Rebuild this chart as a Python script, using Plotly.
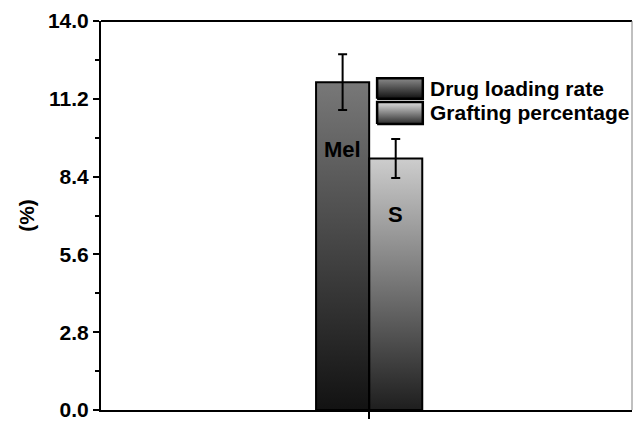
import plotly.graph_objects as go

# ---- data ----
series = ["Drug loading rate", "Grafting percentage"]
bar_labels = ["Mel", "S"]
values = [11.8, 9.05]
errors = [1.0, 0.7]
y_ticks = [0.0, 2.8, 5.6, 8.4, 11.2, 14.0]

# ---- style ----
FONT = "Liberation Sans"
bar_width = 0.1
bar_offsets = [-bar_width, 0.0]
bar_grad = [["#121212", "#787878"], ["#1e1e1e", "#cdcdcd"]]
legend_grad = [["#111111", "#8a8a8a"], ["#2a2a2a", "#e0e0e0"]]
label_shift_px = [-67, -56]

fig = go.Figure()

# gradient fills of the bars (primary axes)
for i, v in enumerate(values):
    x0 = bar_offsets[i]
    x1 = x0 + bar_width
    fig.add_trace(go.Scatter(
        x=[x0, x1, x1, x0, x0], y=[0, 0, v, v, 0],
        mode="lines", fill="toself", line=dict(width=0, color="rgba(0,0,0,0)"),
        fillgradient=dict(type="vertical", start=0, stop=v,
                          colorscale=[[0, bar_grad[i][0]], [1, bar_grad[i][1]]]),
        hoverinfo="skip", showlegend=False,
    ))

# bar outlines and error bars on an overlaid axis pair so they sit above the fills
for i, v in enumerate(values):
    fig.add_trace(go.Bar(
        x=[0], y=[v], width=bar_width, offset=bar_offsets[i], name=series[i],
        marker=dict(color="rgba(0,0,0,0)", line=dict(color="black", width=2)),
        error_y=dict(type="data", array=[errors[i]], color="black",
                     thickness=2, width=4.5),
        xaxis="x2", yaxis="y2", showlegend=False,
    ))

# legend swatches drawn in plot-fraction units
swatch_x = [0.520, 0.606]
swatch_y = [[0.800, 0.853], [0.735, 0.792]]
for i in range(len(series)):
    xa, xb = swatch_x
    ya, yb = swatch_y[i]
    fig.add_trace(go.Scatter(
        x=[xa, xb, xb, xa, xa], y=[ya, ya, yb, yb, ya],
        mode="lines", fill="toself", line=dict(color="black", width=2.5),
        fillgradient=dict(type="vertical", start=ya, stop=yb,
                          colorscale=[[0, legend_grad[i][0]], [1, legend_grad[i][1]]]),
        xaxis="x3", yaxis="y3", hoverinfo="skip", showlegend=False,
    ))
    fig.add_annotation(
        x=0.616, y=(ya + yb) / 2, xref="x domain", yref="y domain",
        text=series[i], showarrow=False, xanchor="left", yanchor="middle",
        font=dict(family=FONT, size=21, color="black", weight="bold"),
    )

# labels inside the bars
for i, v in enumerate(values):
    fig.add_annotation(
        x=bar_offsets[i] + bar_width / 2, y=v, xref="x", yref="y",
        yshift=label_shift_px[i], text=bar_labels[i], showarrow=False,
        font=dict(family=FONT, size=22, color="black", weight="bold"),
    )

xrange = [-0.505, 0.495]
yrange = [0, 14]

fig.update_layout(
    width=633, height=426,
    margin=dict(l=101, r=1, t=21, b=16),
    paper_bgcolor="white", plot_bgcolor="white",
    showlegend=False,
    xaxis=dict(range=xrange, showline=True, linecolor="black", linewidth=2,
               ticks="outside", tickvals=[0], ticktext=[""], ticklen=7,
               tickwidth=2, tickcolor="black", showgrid=False, zeroline=False),
    yaxis=dict(range=yrange, showline=True, linecolor="black", linewidth=2,
               tickvals=y_ticks, tickformat=".1f", ticks="outside", ticklen=6,
               tickwidth=2, tickcolor="black",
               minor=dict(dtick=1.4, tick0=0, ticks="outside", ticklen=4,
                          tickwidth=2, tickcolor="black", showgrid=False),
               showgrid=False, zeroline=False,
               tickfont=dict(family=FONT, size=21, color="black", weight="bold"),
               title=dict(text="(%)", standoff=8,
                          font=dict(family=FONT, size=21, color="black", weight="bold"))),
    xaxis2=dict(overlaying="x", range=xrange, visible=False),
    yaxis2=dict(overlaying="y", range=yrange, visible=False),
    xaxis3=dict(overlaying="x", range=[0, 1], visible=False),
    yaxis3=dict(overlaying="y", range=[0, 1], visible=False),
    shapes=[
        dict(type="line", xref="x domain", yref="y domain", x0=0, x1=1, y0=1, y1=1,
             line=dict(color="black", width=2)),
        dict(type="line", xref="x domain", yref="y domain", x0=1, x1=1, y0=0, y1=1,
             line=dict(color="#808080", width=1)),
    ],
)

fig.write_html("out.html")
